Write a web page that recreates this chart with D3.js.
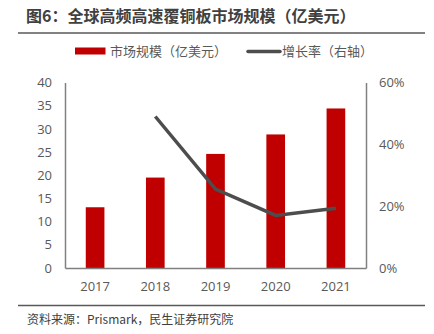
<!DOCTYPE html>
<html>
<head>
<meta charset="utf-8">
<script src="https://cdn.jsdelivr.net/npm/d3@7"></script>
<style>
  body { margin: 0; background: #fff; }
  svg { display: block; font-family: "Open Sans", "Noto Sans CJK SC", sans-serif; }
</style>
</head>
<body>
<svg width="434" height="334"></svg>
<script>
const years = ['2017', '2018', '2019', '2020', '2021'];
const marketSize = [13.1, 19.5, 24.6, 28.8, 34.4];
const growthRate = [null, 0.49, 0.255, 0.17, 0.193];
const leftTicks = [0, 5, 10, 15, 20, 25, 30, 35, 40];
const rightTicks = [0, 0.2, 0.4, 0.6];

const svg = d3.select('svg');
const cjk = '"Noto Sans CJK SC", sans-serif';

const margin = { top: 82.5, left: 65, right: 68, bottom: 66 };
const innerWidth = 434 - margin.left - margin.right;
const innerHeight = 334 - margin.top - margin.bottom;

// title and rules
svg.append('text')
    .attr('x', 26).attr('y', 22)
    .attr('font-family', cjk)
    .attr('font-size', 16).attr('font-weight', 'bold')
    .attr('fill', '#404040')
    .text('图6：全球高频高速覆铜板市场规模（亿美元）');

svg.append('line')
    .attr('x1', 18).attr('x2', 425).attr('y1', 33).attr('y2', 33)
    .attr('stroke', '#595959').attr('stroke-width', 1.5);

svg.append('line')
    .attr('x1', 18).attr('x2', 425).attr('y1', 305.5).attr('y2', 305.5)
    .attr('stroke', '#595959').attr('stroke-width', 1.5);

svg.append('text')
    .attr('x', 27).attr('y', 324)
    .attr('font-family', cjk)
    .attr('font-size', 12)
    .attr('fill', '#404040')
    .text('资料来源：Prismark，民生证券研究院');

const g = svg.append('g')
    .attr('transform', `translate(${margin.left}, ${margin.top})`);

const xScale = d3.scaleBand()
    .domain(years)
    .range([0, innerWidth])
    .paddingInner(0.69)
    .paddingOuter(0.345);

const yLeft = d3.scaleLinear().domain([0, 40]).range([innerHeight, 0]);
const yRight = d3.scaleLinear().domain([0, 0.6]).range([innerHeight, 0]);

// bars
g.selectAll('rect.bar')
    .data(marketSize)
    .enter().append('rect')
    .attr('class', 'bar')
    .attr('x', (d, i) => xScale(years[i]))
    .attr('y', d => yLeft(d))
    .attr('width', xScale.bandwidth())
    .attr('height', d => innerHeight - yLeft(d))
    .attr('fill', '#c00000');

// growth line
const line = d3.line()
    .defined(d => d != null)
    .x((d, i) => xScale(years[i]) + xScale.bandwidth() / 2)
    .y(d => yRight(d));

g.append('path')
    .datum(growthRate)
    .attr('d', line)
    .attr('fill', 'none')
    .attr('stroke', '#4d4d4d')
    .attr('stroke-width', 3.5);

// axes
const leftAxis = g.append('g')
    .call(d3.axisLeft(yLeft).tickValues(leftTicks).tickSize(0).tickPadding(13));
const rightAxis = g.append('g')
    .attr('transform', `translate(${innerWidth}, 0)`)
    .call(d3.axisRight(yRight).tickValues(rightTicks).tickSize(0).tickPadding(13)
        .tickFormat(d3.format('.0%')));
const bottomAxis = g.append('g')
    .attr('transform', `translate(0, ${innerHeight})`)
    .call(d3.axisBottom(xScale).tickSize(0).tickPadding(14));

[leftAxis, rightAxis, bottomAxis].forEach(a => {
    a.attr('font-size', 13).attr('font-family', '"Open Sans", sans-serif');
    a.select('.domain').attr('stroke', '#808080').attr('stroke-width', 1.5);
    a.selectAll('text')
        .attr('font-size', 13)
        .attr('fill', '#595959');
});

// legend
const legend = svg.append('g');
legend.append('rect')
    .attr('x', 75).attr('y', 47.5).attr('width', 30.5).attr('height', 7)
    .attr('fill', '#c00000');
legend.append('text')
    .attr('x', 110).attr('y', 56)
    .attr('font-family', cjk).attr('font-size', 13).attr('fill', '#595959')
    .text('市场规模（亿美元）');
legend.append('line')
    .attr('x1', 248).attr('x2', 280).attr('y1', 51.5).attr('y2', 51.5)
    .attr('stroke', '#4d4d4d').attr('stroke-width', 3.5)
    .attr('stroke-linecap', 'round');
legend.append('text')
    .attr('x', 282).attr('y', 56)
    .attr('font-family', cjk).attr('font-size', 13).attr('fill', '#595959')
    .text('增长率（右轴）');
</script>
</body>
</html>
